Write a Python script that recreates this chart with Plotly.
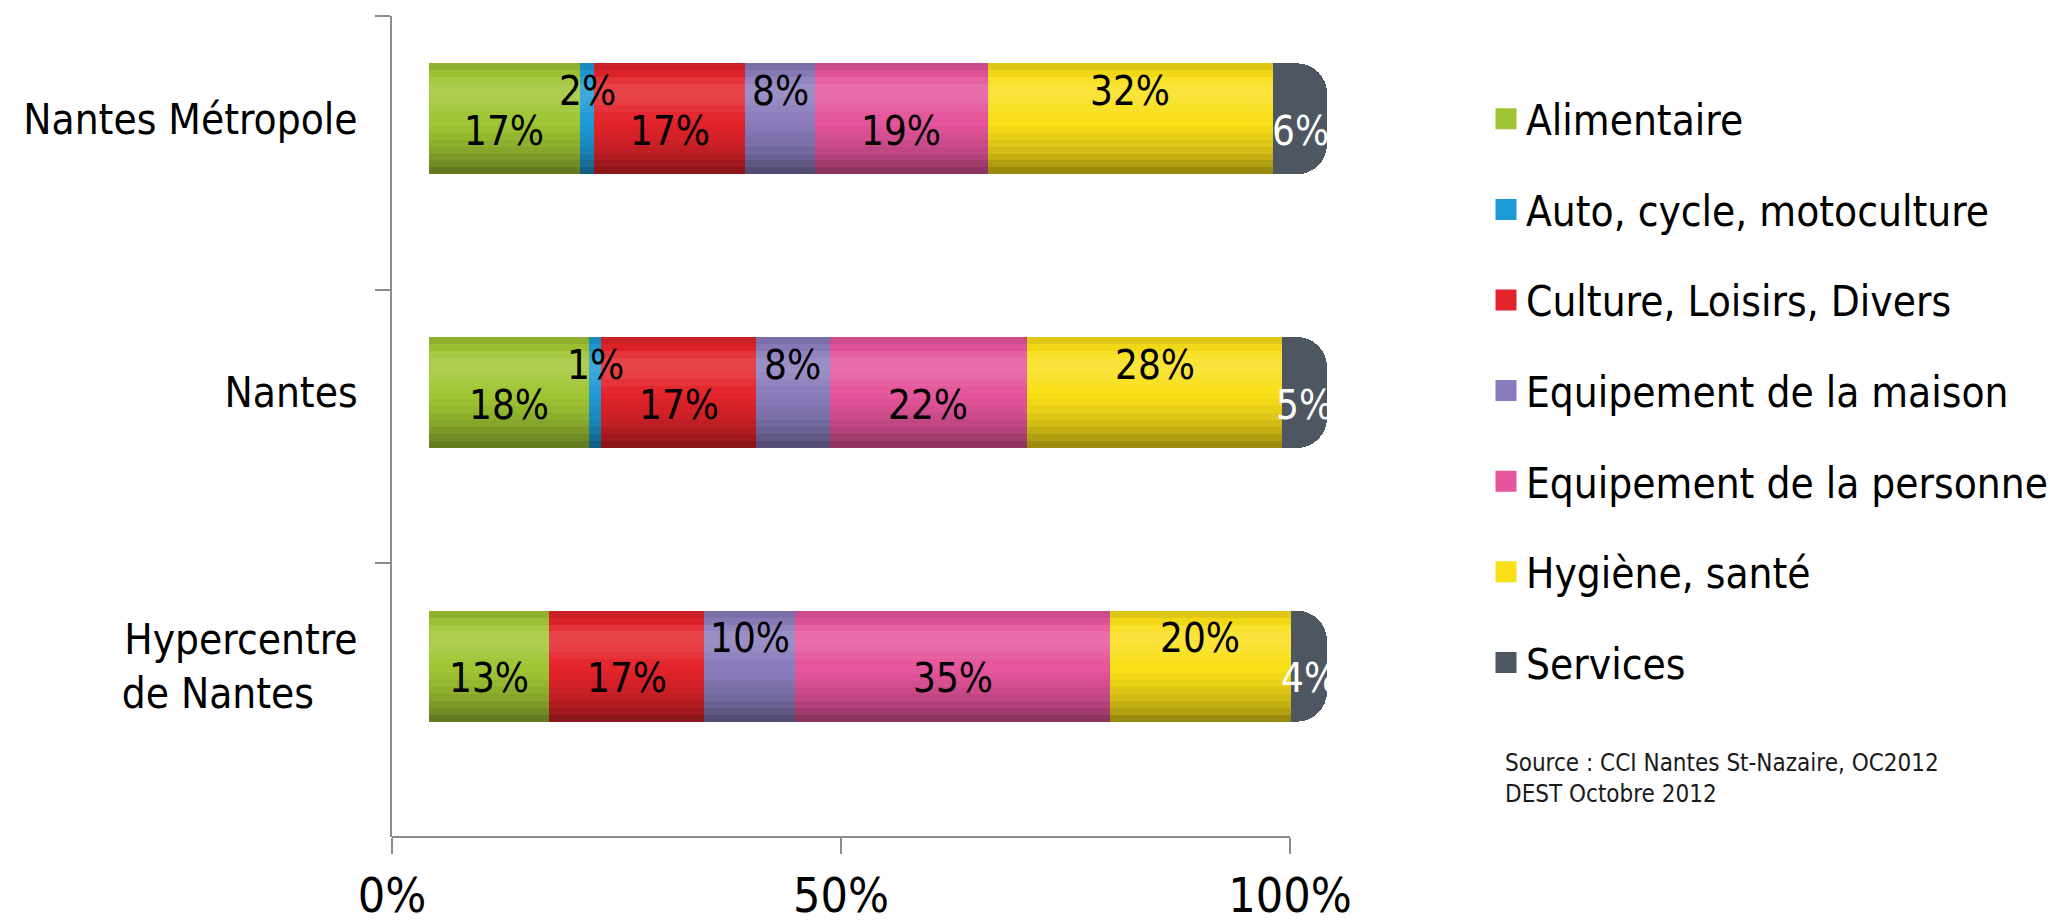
import plotly.graph_objects as go

# ---------------- data ----------------
categories = ["Nantes Métropole", "Nantes", "Hypercentre<br>de Nantes\u00a0\u00a0\u00a0\u2009"]
series_names = [
    "Alimentaire",
    "Auto, cycle, motoculture",
    "Culture, Loisirs, Divers",
    "Equipement de la maison",
    "Equipement de la personne",
    "Hygiène, santé",
    "Services",
]
alimentaire = [16.8, 17.8, 13.4]
auto_cycle = [1.6, 1.4, 0.0]
culture_loisirs = [16.8, 17.2, 17.2]
equip_maison = [7.8, 8.2, 10.2]
equip_personne = [19.2, 22.0, 35.0]
hygiene_sante = [31.8, 28.4, 20.2]
services = [6.0, 5.0, 4.0]
x_tick_values = [0, 50, 100]
x_tick_labels = ["0%", "50%", "100%"]
source_lines = ["Source : CCI Nantes St-Nazaire, OC2012", "DEST Octobre 2012"]

series_values = [alimentaire, auto_cycle, culture_loisirs, equip_maison,
                 equip_personne, hygiene_sante, services]

# ---------------- style ----------------
colors = ["#A0C534", "#1E9AD6", "#E3242B", "#8A7CBB", "#E5559B", "#F9DF18", "#4E5761"]
label_colors = ["#000000"] * 6 + ["#FFFFFF"]
label_raised = [False, True, False, True, False, True, False]
# cylinder-like shading, equal bands from top to bottom of the bar:
# positive = darken (black alpha), negative = lighten (white alpha)
shade_profile = [0.10, 0.03, -0.08, -0.14, -0.15, -0.12, -0.07, -0.02,
                 0.00, 0.03, 0.07, 0.11, 0.16, 0.22, 0.29, 0.38]
FONT = "Liberation Sans Narrow, DejaVu Sans Condensed, Arial Narrow, sans-serif"
AXIS_GRAY = "#8C8C8C"

W, H = 2050, 923
plot_left, plot_right, plot_top, plot_bottom = 392, 1362, 16, 837
px_per_pct = 8.98
x_span = (plot_right - plot_left) / px_per_pct
bar_shift_pct = 37 / px_per_pct
cat_px = (plot_bottom - plot_top) / len(categories)
bar_width = 111 / cat_px
bar_up = 34 / cat_px
bar_offset = -bar_up - bar_width / 2
bar_range = [-bar_shift_pct, x_span - bar_shift_pct]

fig = go.Figure()

for name, vals, col in zip(series_names, series_values, colors):
    fig.add_trace(go.Bar(
        y=categories, x=vals, name=name, orientation="h",
        xaxis="x2", yaxis="y",
        marker=dict(color=col, line=dict(width=0)),
        width=bar_width, offset=bar_offset,
        showlegend=False, legendgroup=name, hoverinfo="x+name",
    ))
    # legend entry with a larger square symbol
    fig.add_trace(go.Scatter(
        x=[None], y=[None], mode="markers", name=name, legendgroup=name,
        xaxis="x2", yaxis="y",
        marker=dict(symbol="square", size=16, color=col, line=dict(width=5, color=col)),
    ))

# shading over the cylinder body (all segments but the rounded end one)
body_totals = [sum(vals[ci] for vals in series_values[:-1]) for ci in range(len(categories))]
extra_axes = {}
n_bands = len(shade_profile)
band_w = bar_width / n_bands
for bi, s in enumerate(shade_profile):
    if s == 0:
        continue
    shade = f"rgba(0,0,0,{s:.3f})" if s > 0 else f"rgba(255,255,255,{-s:.3f})"
    ax_num = bi + 3
    fig.add_trace(go.Bar(
        y=categories, x=body_totals, orientation="h", xaxis=f"x{ax_num}", yaxis="y",
        marker=dict(color=shade, line=dict(width=0), cornerradius=0),
        width=band_w, offset=bar_offset + bi * band_w,
        showlegend=False, hoverinfo="skip",
    ))
    extra_axes[f"xaxis{ax_num}"] = dict(range=bar_range, overlaying="x",
                                        visible=False, fixedrange=True)

# value labels
annotations = []
cum = [0.0] * len(categories)
for si, vals in enumerate(series_values):
    for ci, v in enumerate(vals):
        if v > 0:
            annotations.append(dict(
                x=cum[ci] + v / 2, y=categories[ci], xref="x2", yref="y",
                text=f"{round(v)}%", showarrow=False,
                yshift=62 if label_raised[si] else 22,
                font=dict(family=FONT, size=40, color=label_colors[si]),
            ))
        cum[ci] += v

annotations.append(dict(
    x=(1503 - plot_left) / (plot_right - plot_left),
    y=(plot_bottom - 778) / (plot_bottom - plot_top),
    xref="paper", yref="paper",
    xanchor="left", yanchor="middle", align="left", showarrow=False,
    text="<br>".join(source_lines),
    font=dict(family=FONT, size=24, color="#1a1a1a"),
))

fig.update_layout(
    width=W, height=H,
    margin=dict(l=plot_left, r=W - plot_right, t=plot_top, b=H - plot_bottom, pad=0,
                autoexpand=False),
    paper_bgcolor="white", plot_bgcolor="white",
    barmode="stack", barcornerradius=30,
    font=dict(family=FONT, color="#000000"),
    xaxis=dict(range=[0, x_span], tickvals=x_tick_values, ticktext=x_tick_labels,
               showgrid=False, zeroline=False, showline=False, automargin=False,
               ticks="outside", ticklen=16, tickwidth=2, tickcolor=AXIS_GRAY,
               tickfont=dict(family=FONT, size=48, color="#000000")),
    xaxis2=dict(range=bar_range, overlaying="x", visible=False, fixedrange=True),
    yaxis=dict(autorange="reversed", type="category", showgrid=False, zeroline=False,
               showline=True, linecolor=AXIS_GRAY, linewidth=2, automargin=False,
               ticks="outside", tickson="boundaries", ticklen=15, tickwidth=2,
               tickcolor=AXIS_GRAY, ticklabelshift=34, ticklabelstandoff=24,
               tickfont=dict(family=FONT, size=42, color="#000000")),
    legend=dict(xref="container", yref="container", x=1486 / W, y=1 - 85 / H,
                xanchor="left", yanchor="top", tracegroupgap=33, maxheight=1,
                font=dict(family=FONT, size=42, color="#000000"),
                bgcolor="rgba(0,0,0,0)"),
    annotations=annotations,
    shapes=[dict(type="line", xref="x", yref="paper", x0=0, x1=100, y0=0, y1=0,
                 line=dict(color=AXIS_GRAY, width=2), layer="below")],
    **extra_axes,
)

fig.write_html("out.html")
